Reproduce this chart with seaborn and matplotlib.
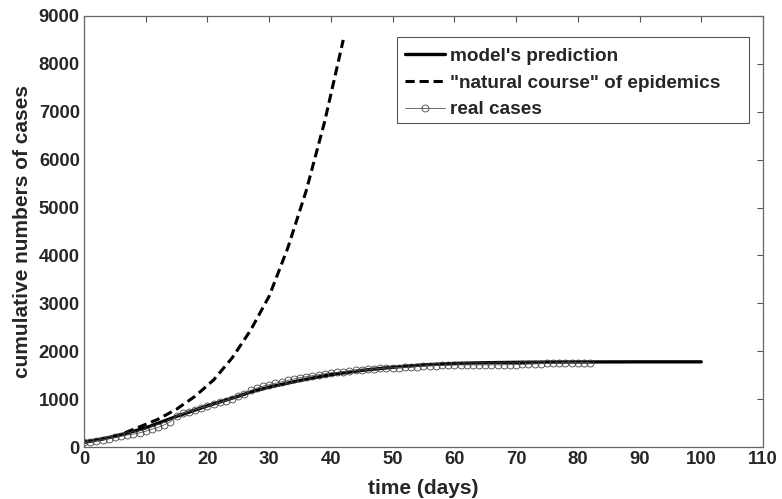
import matplotlib
matplotlib.use("Agg")
import matplotlib.pyplot as plt
from matplotlib.patches import Rectangle
import numpy as np
import pandas as pd
import seaborn as sns

# model's prediction (days, cumulative cases)
model_days = [0, 5, 10, 15, 20, 25, 27, 30, 35, 40, 45, 50, 55, 60, 65, 70, 75, 80, 90, 100]
model_cases = [100, 220, 400, 640, 860, 1060, 1150, 1250, 1390, 1510, 1600, 1665, 1715, 1745, 1760, 1768, 1773, 1776, 1778, 1778]

# "natural course" of epidemics
natural_days = [0, 3, 6, 9, 12, 15, 18, 21, 24, 27, 30, 33, 36, 39, 42]
natural_cases = [100, 165, 265, 420, 580, 790, 1060, 1400, 1860, 2440, 3150, 4150, 5350, 6800, 8500]

# real cases, one per day from day 0 to day 82
real_cases = [100, 110, 130, 150, 175, 200, 225, 250, 270, 295,
              330, 370, 410, 460, 530, 650, 700, 740, 780, 820,
              850, 890, 930, 970, 1010, 1060, 1110, 1180, 1230, 1270,
              1300, 1330, 1360, 1390, 1420, 1450, 1470, 1490, 1510, 1530,
              1550, 1560, 1575, 1590, 1600, 1610, 1620, 1630, 1640, 1650,
              1655, 1660, 1665, 1670, 1680, 1690, 1695, 1700, 1705, 1710,
              1712, 1714, 1715, 1715, 1715, 1715, 1715, 1715, 1718, 1720,
              1722, 1725, 1730, 1735, 1740, 1745, 1750, 1755, 1760, 1760,
              1760, 1760, 1760]
real_days = list(range(len(real_cases)))

sns.set_style("white")
plt.rcParams['font.family'] = ['Liberation Sans', 'DejaVu Sans']
plt.rcParams['font.weight'] = 'bold'

fig = plt.figure(figsize=(7.82, 4.99), dpi=100)
ax = fig.add_axes([0.1074, 0.1042, 0.8683, 0.8638])

df_model = pd.DataFrame({'day': model_days, 'cases': model_cases})
df_nat = pd.DataFrame({'day': natural_days, 'cases': natural_cases})
df_real = pd.DataFrame({'day': real_days, 'cases': real_cases})

sns.lineplot(data=df_model, x='day', y='cases', ax=ax, color='black', lw=2.4,
             label="model's prediction")
sns.lineplot(data=df_nat, x='day', y='cases', ax=ax, color='black', lw=2.2,
             linestyle=(0, (3, 1.6)), label='"natural course" of epidemics')
sns.lineplot(data=df_real, x='day', y='cases', ax=ax, color='#555555', lw=0.6,
             marker='o', markersize=5, markerfacecolor='none',
             markeredgecolor='#444444', markeredgewidth=0.6, label='real cases')

ax.set_xlim(0, 110)
ax.set_ylim(0, 9000)
ax.set_xticks(np.arange(0, 111, 10))
ax.set_yticks(np.arange(0, 9001, 1000))
ax.tick_params(direction='in', top=True, right=True, length=4, width=0.8,
               color='#555555', labelsize=13.3, pad=3)
for lab in ax.get_xticklabels() + ax.get_yticklabels():
    lab.set_fontweight('bold')
for sp in ax.spines.values():
    sp.set_color('#666666')
    sp.set_linewidth(0.9)

ax.set_xlabel('time (days)', fontsize=15, fontweight='bold', labelpad=8)
ax.set_ylabel('cumulative numbers of cases', fontsize=15, fontweight='bold')
ax.yaxis.set_label_coords(-0.077, 0.5)

# legend box drawn like matlab's (wide right padding)
ax.add_patch(Rectangle((0.461, 0.752), 0.519, 0.199, transform=ax.transAxes,
                       facecolor='white', edgecolor='#555555', lw=0.8, zorder=4))
leg = ax.legend(loc='upper left', bbox_to_anchor=(0.4728, 0.927), borderaxespad=0,
                fontsize=13.7, handlelength=2.1, handletextpad=0.26, labelspacing=0.5,
                frameon=False, borderpad=0)
leg.set_zorder(5)
for t in leg.get_texts():
    t.set_fontweight('bold')

fig.savefig('out.png', dpi=100, facecolor='white')
